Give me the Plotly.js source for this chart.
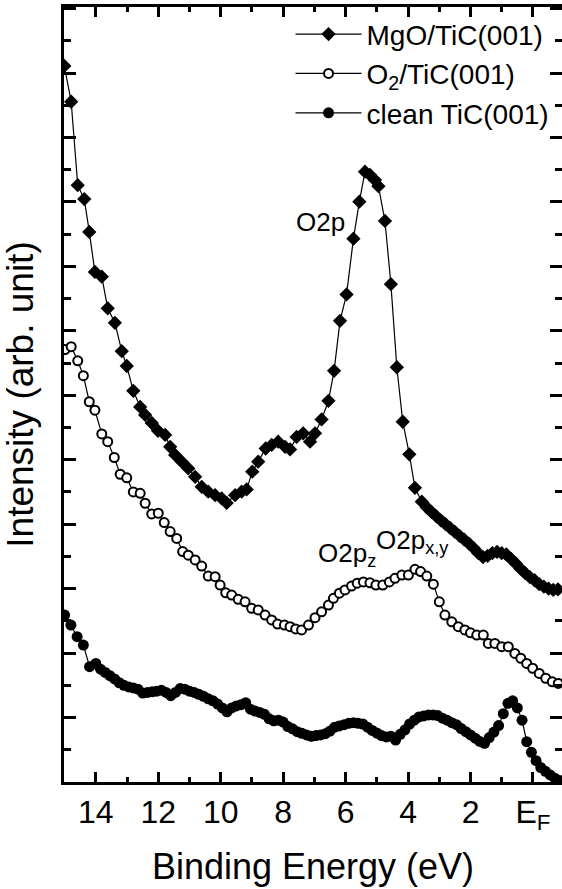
<!DOCTYPE html>
<html>
<head>
<meta charset="utf-8">
<script src="https://cdn.plot.ly/plotly-3.0.1.min.js"></script>
<style>html,body{margin:0;padding:0;background:#fff;overflow:hidden}</style>
</head>
<body>
<div id="chart" style="width:562px;height:889px"></div>
<script>
// ---- data ----
const seriesNames = ["MgO/TiC(001)", "O<sub>2</sub>/TiC(001)", "clean TiC(001)"];

const mgoX = [15.01,14.79,14.58,14.37,14.21,14.03,13.81,13.62,13.39,13.17,13.01,12.80,12.58,12.42,12.21,12.01,11.78,11.62,11.46,11.25,11.04,10.82,10.61,10.40,10.18,9.97,9.81,9.54,9.33,9.17,8.99,8.80,8.56,8.37,8.16,7.94,7.78,7.57,7.36,7.14,6.98,6.77,6.55,6.37,6.18,5.97,5.75,5.56,5.38,5.22,5.06,4.95,4.74,4.55,4.36,4.17,3.96,3.78,3.56,3.40,3.25,3.10,2.95,2.80,2.65,2.50,2.35,2.20,2.05,1.90,1.75,1.60,1.45,1.30,1.15,1.00,0.85,0.70,0.55,0.40,0.25,0.10,-0.05,-0.20,-0.35,-0.50,-0.65,-0.80];
const mgoY = [22.22,21.11,18.52,18.09,17.07,15.83,15.68,14.70,14.25,13.37,12.91,12.14,11.64,11.39,11.14,10.90,10.77,10.40,10.15,9.94,9.73,9.47,9.16,9.01,8.90,8.80,8.66,8.90,9.01,9.08,9.63,9.94,10.35,10.46,10.56,10.40,10.32,10.71,10.82,10.56,10.82,11.25,11.83,12.76,14.31,15.13,16.86,18.01,18.94,18.84,18.68,18.49,17.41,15.45,12.87,11.18,10.17,9.13,8.70,8.52,8.38,8.25,8.12,8.00,7.88,7.76,7.64,7.52,7.40,7.26,7.10,6.98,7.02,7.10,7.14,7.10,7.06,6.92,6.78,6.62,6.48,6.36,6.26,6.14,6.06,6.00,5.96,5.98];

const o2X = [14.99,14.79,14.58,14.40,14.21,14.03,13.81,13.62,13.41,13.22,13.01,12.80,12.58,12.42,12.21,12.00,11.81,11.62,11.41,11.22,11.04,10.82,10.61,10.40,10.18,10.02,9.84,9.65,9.44,9.22,9.01,8.80,8.58,8.37,8.18,7.96,7.78,7.60,7.41,7.19,6.98,6.77,6.55,6.39,6.20,6.02,5.81,5.63,5.43,5.22,5.03,4.81,4.60,4.42,4.20,3.99,3.78,3.60,3.40,3.19,3.00,2.82,2.60,2.39,2.18,2.00,1.80,1.59,1.43,1.22,1.00,0.79,0.58,0.39,0.20,0.01,-0.20,-0.41,-0.62,-0.81];
const o2Y = [13.42,13.51,13.07,12.61,11.80,11.54,10.80,10.56,10.07,9.55,9.44,9.00,8.96,8.65,8.32,8.34,8.05,7.77,7.56,7.15,7.04,6.89,6.70,6.39,6.37,6.11,5.87,5.80,5.67,5.59,5.39,5.34,5.18,5.03,4.90,4.87,4.82,4.75,4.72,4.87,5.10,5.28,5.49,5.70,5.86,5.96,6.08,6.17,6.21,6.18,6.11,6.11,6.21,6.32,6.42,6.42,6.60,6.53,6.39,6.14,5.59,5.18,4.97,4.82,4.72,4.63,4.56,4.56,4.30,4.30,4.20,4.20,3.99,3.84,3.68,3.53,3.37,3.22,3.11,3.06];

const cleanX = [15.0,14.8,14.6,14.4,14.2,14.0,13.85,13.7,13.55,13.4,13.25,13.1,12.95,12.8,12.65,12.5,12.35,12.2,12.05,11.9,11.75,11.6,11.45,11.3,11.15,11.0,10.85,10.7,10.55,10.4,10.25,10.1,9.95,9.8,9.65,9.5,9.35,9.2,9.05,8.9,8.75,8.6,8.45,8.3,8.15,8.0,7.85,7.7,7.55,7.4,7.25,7.1,6.95,6.8,6.65,6.5,6.35,6.2,6.05,5.9,5.75,5.6,5.45,5.3,5.15,5.0,4.85,4.7,4.55,4.4,4.25,4.1,3.95,3.8,3.65,3.5,3.35,3.2,3.05,2.9,2.75,2.6,2.45,2.3,2.15,2.0,1.85,1.7,1.55,1.4,1.25,1.1,0.95,0.8,0.65,0.5,0.35,0.2,0.05,-0.1,-0.25,-0.4,-0.55,-0.7,-0.85];
const cleanY = [5.18,4.87,4.51,4.25,3.58,3.68,3.50,3.40,3.30,3.20,3.08,3.00,2.95,2.92,2.88,2.76,2.78,2.80,2.82,2.85,2.78,2.68,2.78,2.90,2.88,2.82,2.78,2.72,2.66,2.58,2.52,2.42,2.30,2.18,2.30,2.36,2.40,2.46,2.26,2.20,2.16,2.10,1.96,1.90,1.92,1.86,1.72,1.65,1.56,1.51,1.46,1.42,1.44,1.46,1.50,1.58,1.70,1.74,1.78,1.82,1.84,1.82,1.80,1.70,1.60,1.52,1.44,1.40,1.42,1.30,1.48,1.62,1.80,1.92,2.02,2.05,2.08,2.08,2.06,1.98,1.92,1.84,1.78,1.66,1.56,1.46,1.36,1.26,1.20,1.38,1.55,1.75,2.12,2.44,2.52,2.30,1.92,1.25,0.92,0.66,0.45,0.33,0.22,0.12,0.05];

const xTickVals = [14, 12, 10, 8, 6, 4, 2, 0];
const xTickText = ["14", "12", "10", "8", "6", "4", "2", "E<sub>F</sub>"];

// ---- drawing ----
const FONT = "Liberation Sans, Arial, Helvetica, sans-serif";
const xRange = [15.02, -0.93];
const yRange = [0, 24.05];

const traces = [
  {x: mgoX, y: mgoY, name: seriesNames[0], type: "scatter", mode: "lines+markers",
   line: {color: "#000", width: 1.2},
   marker: {symbol: "diamond", size: 11, color: "#000"}},
  {x: o2X, y: o2Y, name: seriesNames[1], type: "scatter", mode: "lines+markers",
   line: {color: "#000", width: 1.2},
   marker: {symbol: "circle", size: 9, color: "#fff", line: {color: "#000", width: 2}}},
  {x: cleanX, y: cleanY, name: seriesNames[2], type: "scatter", mode: "lines+markers",
   line: {color: "#000", width: 1.2},
   marker: {symbol: "circle", size: 11, color: "#000"}},
  {x: [], y: [], xaxis: "x", yaxis: "y2", showlegend: false, hoverinfo: "skip", type: "scatter"}
];

const layout = {
  width: 562, height: 889,
  margin: {l: 64, r: 0, t: 7, b: 107},
  paper_bgcolor: "#fff", plot_bgcolor: "#fff",
  font: {family: FONT, color: "#000"},
  showlegend: true,
  legend: {x: 0.985, xanchor: "right", y: 0.997, yanchor: "top",
           bgcolor: "rgba(0,0,0,0)", font: {size: 28, family: FONT},
           tracegroupgap: 0, itemwidth: 66},
  xaxis: {
    range: xRange, tickmode: "array", tickvals: xTickVals, ticktext: xTickText,
    ticks: "inside", ticklen: 10, tickwidth: 3, tickcolor: "#000",
    showline: true, linewidth: 3, linecolor: "#000", mirror: "ticks",
    showgrid: false, zeroline: false,
    tickfont: {size: 32, family: FONT},
    minor: {tickmode: "linear", tick0: 0, dtick: 1, ticks: "inside", ticklen: 5, tickwidth: 3, tickcolor: "#000"},
    title: {text: "Binding Energy (eV)", font: {size: 36, family: FONT}, standoff: 20}
  },
  yaxis: {
    range: yRange, tickmode: "linear", tick0: 0, dtick: 2,
    ticks: "inside", ticklen: 12, tickwidth: 3, tickcolor: "#000",
    showline: true, linewidth: 3, linecolor: "#000",
    showgrid: false, zeroline: false, showticklabels: false,
    minor: {tickmode: "linear", tick0: 0, dtick: 1, ticks: "inside", ticklen: 7, tickwidth: 3, tickcolor: "#000"},
    title: {text: "Intensity (arb. unit)", font: {size: 37, family: FONT}, standoff: 18}
  },
  yaxis2: {
    range: yRange, overlaying: "y", side: "right", anchor: "x",
    tickmode: "linear", tick0: 0, dtick: 2,
    ticks: "inside", ticklen: 12, tickwidth: 3, tickcolor: "#000",
    showline: false, showgrid: false, zeroline: false, showticklabels: false,
    minor: {tickmode: "linear", tick0: 0, dtick: 1, ticks: "inside", ticklen: 7, tickwidth: 3, tickcolor: "#000"}
  },
  annotations: [
    {x: 6.79, y: 17.37, xref: "x", yref: "y", text: "O2p", showarrow: false,
     font: {size: 26, family: FONT}},
    {x: 6.95, y: 7.05, xref: "x", yref: "y", text: "O2p<sub>z</sub>", showarrow: false,
     xanchor: "left", yanchor: "middle", font: {size: 26, family: FONT}},
    {x: 5.08, y: 7.45, xref: "x", yref: "y", text: "O2p<sub>x,y</sub>", showarrow: false,
     xanchor: "left", yanchor: "middle", font: {size: 26, family: FONT}}
  ]
};

Plotly.newPlot("chart", traces, layout, {displayModeBar: false, staticPlot: true});
</script>
</body>
</html>
